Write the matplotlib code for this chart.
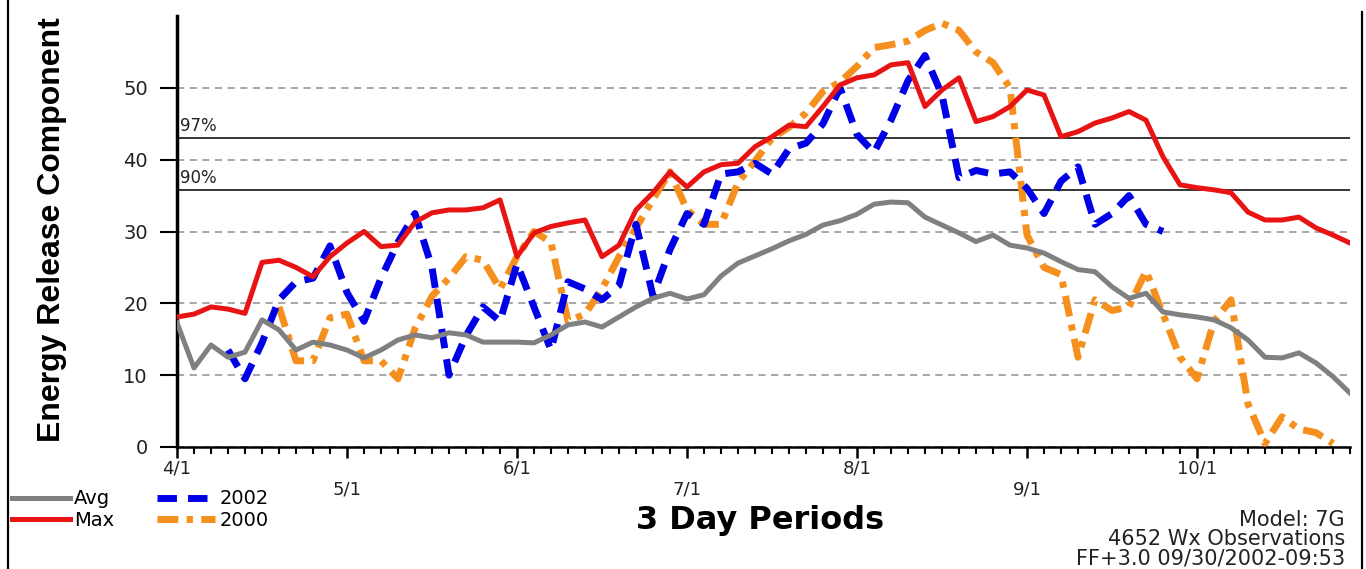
import numpy as np
from matplotlib import pyplot as plt
from matplotlib.lines import Line2D
from matplotlib.ticker import FixedLocator

# ERC by 3-day period, period 0 = 4/1
erc_avg = [17.3, 11.0, 14.2, 12.5, 13.2, 17.7, 16.3, 13.5, 14.6, 14.2,
           13.5, 12.4, 13.5, 14.9, 15.6, 15.2, 15.9, 15.6, 14.6, 14.6,
           14.6, 14.5, 15.6, 17.0, 17.4, 16.7, 18.1, 19.5, 20.7, 21.4,
           20.6, 21.2, 23.8, 25.6, 26.6, 27.6, 28.7, 29.6, 30.9, 31.5,
           32.4, 33.8, 34.1, 34.0, 32.0, 30.9, 29.8, 28.6, 29.5, 28.1,
           27.7, 27.0, 25.8, 24.7, 24.4, 22.3, 20.7, 21.4, 18.8, 18.4,
           18.1, 17.7, 16.6, 14.9, 12.5, 12.4, 13.1, 11.7, 9.8, 7.5]

erc_max = [18.1, 18.5, 19.5, 19.2, 18.6, 25.7, 26.0, 25.0, 23.7, 26.5,
           28.4, 30.0, 27.9, 28.1, 31.3, 32.6, 33.0, 33.0, 33.3, 34.4,
           26.5, 29.8, 30.7, 31.2, 31.6, 26.5, 28.1, 33.0, 35.4, 38.3,
           36.2, 38.3, 39.3, 39.5, 41.8, 43.2, 44.8, 44.6, 47.4, 50.4,
           51.4, 51.8, 53.2, 53.5, 47.4, 49.7, 51.4, 45.3, 46.0, 47.4,
           49.7, 49.0, 43.2, 43.9, 45.1, 45.8, 46.7, 45.5, 40.4, 36.5,
           36.1, 35.8, 35.4, 32.7, 31.6, 31.6, 32.0, 30.5, 29.5, 28.4]

start_2002 = 3
erc_2002 = [13.5, 9.5, 14.5, 20.5, 23.0, 23.5, 28.0, 21.5, 17.5, 23.5,
            28.5, 32.5, 25.0, 10.0, 15.5, 19.5, 17.5, 25.5, 19.5, 13.5,
            23.0, 22.0, 20.5, 22.5, 31.0, 21.0, 27.5, 32.5, 31.0, 38.0,
            38.3, 39.5, 38.0, 41.5, 42.3, 45.0, 50.0, 43.5, 41.0, 45.5,
            51.0, 54.5, 49.0, 37.5, 38.5, 38.0, 38.3, 36.0, 32.5, 37.0,
            39.0, 31.0, 32.5, 35.0, 31.0, 30.0]

start_2000 = 6
erc_2000 = [19.5, 12.0, 12.0, 18.0, 18.5, 12.0, 12.0, 9.5, 16.5, 21.0,
            23.5, 26.5, 26.0, 22.0, 26.5, 30.0, 28.5, 17.5, 18.5, 22.0,
            26.5, 30.5, 34.5, 38.3, 33.0, 31.0, 31.0, 36.8, 39.8, 43.0,
            44.5, 46.5, 49.5, 50.8, 53.0, 55.6, 56.0, 56.5, 58.0, 59.0,
            58.0, 55.0, 53.5, 50.0, 29.5, 25.0, 24.0, 12.5, 20.5, 19.0,
            19.5, 24.5, 18.5, 12.5, 9.5, 17.5, 20.5, 6.0, 0.5, 4.2,
            2.5, 2.0, 0.5]

pct_levels = [43.0, 35.8]
pct_labels = ["97%", "90%"]

month_periods = [0, 10, 20, 30, 40, 50, 60]
month_labels = ["4/1", "5/1", "6/1", "7/1", "8/1", "9/1", "10/1"]

footer_lines = ["Model: 7G", "4652 Wx Observations", "FF+3.0 09/30/2002-09:53"]


if __name__ == "__main__":
    plt.rcParams['font.family'] = ['DejaVu Sans']
    W, H = 1366, 569
    fig = plt.figure(figsize=(W / 100, H / 100), dpi=100)
    ax = fig.add_axes([177 / W, (H - 447) / H, 1173 / W, 431 / H])

    x = np.arange(len(erc_avg))
    x02 = np.arange(start_2002, start_2002 + len(erc_2002))
    x00 = np.arange(start_2000, start_2000 + len(erc_2000))

    ax.plot(x00, erc_2000, color='#f5901e', lw=5, ls=(0, (3, 1.2, 0.9, 1.2)),
            dash_capstyle='butt', label='2000', zorder=3)
    ax.plot(x02, erc_2002, color='#0000e6', lw=5, ls=(0, (2.8, 1.6)),
            dash_capstyle='butt', label='2002', zorder=4)
    ax.plot(x, erc_avg, color='#808080', lw=3.6, label='Avg', zorder=5)
    ax.plot(x, erc_max, color='#e81414', lw=3.6, label='Max', zorder=6)

    # percentile thresholds
    for lev, lab in zip(pct_levels, pct_labels):
        ax.axhline(lev, color='black', lw=1.1, zorder=2)
        ax.text(0.2, lev + 0.4, lab, fontsize=12, color='#222222',
                va='bottom', ha='left')

    ax.set_xlim(0, 69)
    ax.set_ylim(0, 60)
    ax.set_yticks([0, 10, 20, 30, 40, 50])
    ax.yaxis.grid(True, color='#a0a0a0', lw=1.3, ls=(0, (4, 3)))

    # month ticks on top of one tick per 3-day period
    ax.xaxis.set_major_locator(FixedLocator(month_periods))
    ax.xaxis.set_minor_locator(FixedLocator(x))
    ax.set_xticklabels([lab if i % 2 == 0 else "\n" + lab
                        for i, lab in enumerate(month_labels)])
    ax.tick_params(axis='x', which='major', direction='out', length=8,
                   width=1.8, pad=1, labelsize=13, labelcolor='#222222',
                   color='black')
    ax.tick_params(axis='x', which='minor', direction='out', length=5,
                   width=1.5, color='black')
    ax.tick_params(axis='y', length=12, width=1.5, pad=9,
                   labelsize=14, labelcolor='#222222')

    for side in ('top', 'right'):
        ax.spines[side].set_visible(False)
    ax.spines['left'].set_linewidth(2.5)
    ax.spines['bottom'].set_linewidth(1.8)

    fig.text(52 / W, (H - 230) / H, 'Energy Release Component',
             rotation=90, ha='center', va='center', fontsize=23,
             fontweight='bold', family=['Liberation Sans', 'DejaVu Sans'])
    fig.text(760 / W, (H - 520) / H, '3 Day Periods', ha='center',
             va='center', fontsize=23, fontweight='bold')

    for i, line in enumerate(footer_lines):
        fig.text(1345 / W, (H - 520 - 19 * i) / H, line, ha='right',
                 va='center', fontsize=15, color='#222222')

    handles, labels = ax.get_legend_handles_labels()
    order = [2, 3, 1, 0]
    fig.legend([handles[i] for i in order], [labels[i] for i in order],
               ncol=2, loc='upper left', bbox_to_anchor=(12 / W, 0.14),
               frameon=False, fontsize=14, handlelength=3.0,
               handletextpad=0.2, columnspacing=2.2, labelspacing=0.15,
               borderaxespad=0, borderpad=0)

    # page border
    fig.add_artist(Line2D([8 / W, 8 / W], [0, 1], color='black', lw=1.6))
    fig.add_artist(Line2D([1362 / W, 1362 / W], [0, (H - 12) / H],
                          color='black', lw=1.6))

    plt.savefig('out.png', dpi=100)
